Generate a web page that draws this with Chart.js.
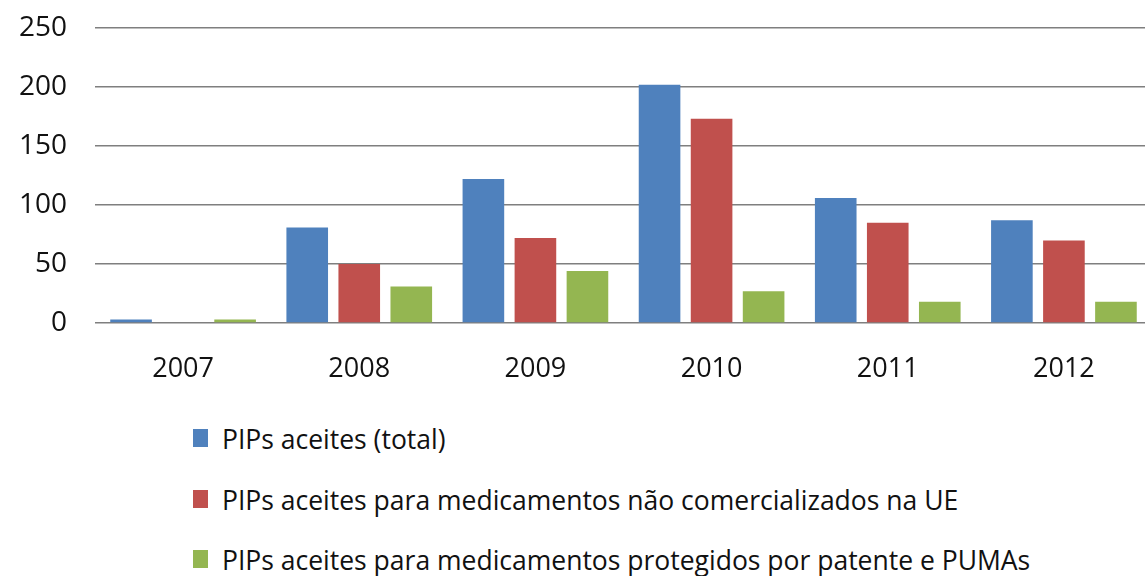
<!DOCTYPE html>
<html>
<head>
<meta charset="utf-8">
<script src="https://cdn.jsdelivr.net/npm/chart.js@4/dist/chart.umd.min.js"></script>
<style>
  html, body { margin: 0; padding: 0; background: #fff; overflow: hidden; }
  #wrap { position: relative; width: 1152px; height: 400px; }
  #legend { position: absolute; left: 193px; top: 421px; font-family: "Open Sans", sans-serif; font-size: 26.5px; color: #111; }
  #legend .item { height: 60.5px; display: flex; align-items: flex-start; }
  #legend .box { width: 15px; height: 18px; margin-right: 14px; margin-top: 8px; }
</style>
</head>
<body>
<div id="wrap"><canvas id="pipChart"></canvas></div>
<div id="legend"></div>
<script>
const years = ['2007', '2008', '2009', '2010', '2011', '2012'];
const totalPIPs = [3, 81, 122, 202, 106, 87];
const notMarketed = [0, 50, 72, 173, 85, 70];
const patentPUMA = [3, 31, 44, 27, 18, 18];
const seriesNames = [
    'PIPs aceites (total)',
    'PIPs aceites para medicamentos não comercializados na UE',
    'PIPs aceites para medicamentos protegidos por patente e PUMAs'
];
const seriesColors = ['#4F81BD', '#C0504D', '#94B651'];
const yTicks = [0, 50, 100, 150, 200, 250];

const ctx = document.getElementById('pipChart');
ctx.width = 1152;
ctx.height = 400;

const chart = new Chart(ctx, {
    type: 'bar',
    data: {
        labels: years,
        datasets: [totalPIPs, notMarketed, patentPUMA].map((vals, i) => ({
            label: seriesNames[i],
            data: vals,
            backgroundColor: seriesColors[i],
            borderWidth: 0,
            categoryPercentage: 0.886,
            barPercentage: 0.8
        }))
    },
    options: {
        responsive: false,
        animation: false,
        layout: { padding: { top: 28, right: 0, left: 0, bottom: 0 } },
        plugins: {
            legend: { display: false },
            tooltip: { enabled: false }
        },
        scales: {
            x: {
                grid: { display: false, drawTicks: false },
                border: { display: false },
                ticks: {
                    color: '#111',
                    font: { family: 'Open Sans', size: 27 },
                    padding: 30
                },
                afterFit: s => { s.height = 77; }
            },
            y: {
                min: 0,
                max: 250,
                afterBuildTicks: s => { s.ticks = yTicks.map(v => ({ value: v })); },
                grid: { color: '#7f7f7f', lineWidth: 1.5, drawTicks: false },
                border: { display: false },
                ticks: {
                    color: '#111',
                    font: { family: 'Open Sans', size: 28 },
                    padding: 28
                },
                afterFit: s => { s.width = 95; s.paddingTop = 0; s.paddingBottom = 0; }
            }
        }
    }
});

// legend below the chart, one item per line
const legendEl = document.getElementById('legend');
chart.data.datasets.forEach(ds => {
    const item = document.createElement('div');
    item.className = 'item';
    const box = document.createElement('span');
    box.className = 'box';
    box.style.background = ds.backgroundColor;
    const txt = document.createElement('span');
    txt.textContent = ds.label;
    item.appendChild(box);
    item.appendChild(txt);
    legendEl.appendChild(item);
});
</script>
</body>
</html>
